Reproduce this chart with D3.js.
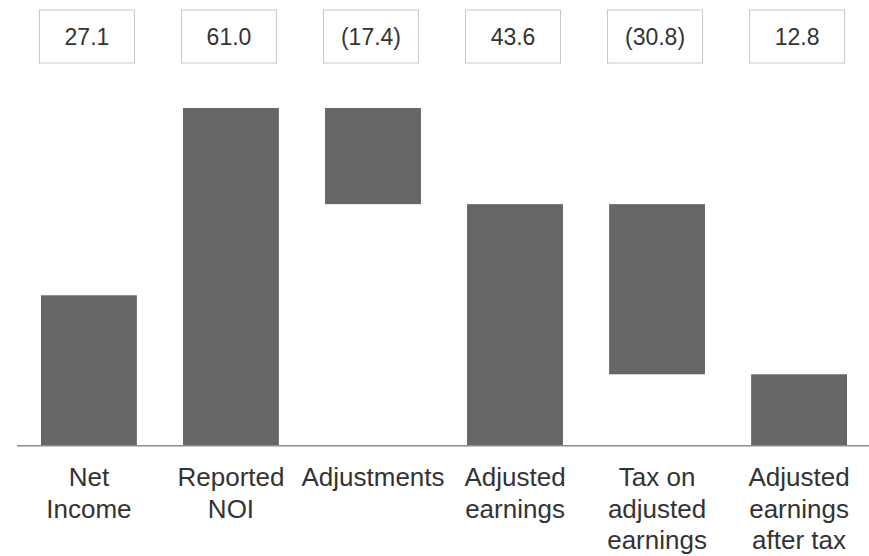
<!DOCTYPE html>
<html>
<head>
<meta charset="utf-8">
<script src="https://cdn.jsdelivr.net/npm/d3@7"></script>
<style>
  html, body { margin: 0; padding: 0; background: #ffffff; }
  svg { display: block; font-family: "Liberation Sans", Arial, Helvetica, sans-serif; }
</style>
</head>
<body>
<svg id="chart" width="869" height="556"></svg>
<script>
// ---- data ----
const categories = [
  ["Net", "Income"],
  ["Reported", "NOI"],
  ["Adjustments"],
  ["Adjusted", "earnings"],
  ["Tax on", "adjusted", "earnings"],
  ["Adjusted", "earnings", "after tax"]
];
const values = [27.1, 61.0, -17.4, 43.6, -30.8, 12.8];
// "total" bars start at zero; "delta" bars float from the running total
const barTypes = ["total", "total", "delta", "total", "delta", "total"];

// ---- build waterfall segments ----
let running = 0;
const bars = values.map((v, i) => {
  let y0, y1;
  if (barTypes[i] === "total") { y0 = 0; y1 = v; running = v; }
  else { y0 = running; y1 = running + v; running = y1; }
  return { i, v, lo: Math.min(y0, y1), hi: Math.max(y0, y1) };
});

const fmt = v => v < 0 ? "(" + d3.format(".1f")(-v) + ")" : d3.format(".1f")(v);

const svg = d3.select("#chart");

const x = d3.scaleBand()
  .domain(d3.range(categories.length))
  .range([17, 871])
  .paddingInner(0.325)
  .paddingOuter(0.169);

const y = d3.scaleLinear()
  .domain([0, 61.0])
  .range([445, 108]);

// bars
svg.append("g").selectAll("rect")
  .data(bars)
  .join("rect")
  .attr("x", d => x(d.i))
  .attr("width", x.bandwidth())
  .attr("y", d => y(d.hi))
  .attr("height", d => y(d.lo) - y(d.hi))
  .attr("fill", "#666666");

// baseline axis
svg.append("line")
  .attr("x1", 17).attr("x2", 869)
  .attr("y1", y(0) + 0.75).attr("y2", y(0) + 0.75)
  .attr("stroke", "#8c8c8c")
  .attr("stroke-width", 1.5);

// value boxes
const boxW = 95, boxH = 53, boxTop = 10;
const boxes = svg.append("g").selectAll("g")
  .data(bars)
  .join("g")
  .attr("transform", d => `translate(${x(d.i) + x.bandwidth() / 2 - 2},0)`);
boxes.append("rect")
  .attr("x", -boxW / 2).attr("y", boxTop)
  .attr("width", boxW).attr("height", boxH)
  .attr("fill", "#ffffff")
  .attr("stroke", "#c8c8c8")
  .attr("stroke-width", 1);
boxes.append("text")
  .attr("x", 0).attr("y", 45)
  .attr("text-anchor", "middle")
  .attr("font-size", 23)
  .attr("fill", "#333333")
  .text(d => fmt(d.v));

// category labels
const labels = svg.append("g").selectAll("text")
  .data(categories)
  .join("text")
  .attr("text-anchor", "middle")
  .attr("font-size", 26)
  .attr("fill", "#333333")
  .attr("transform", (d, i) => `translate(${x(i) + x.bandwidth() / 2},0)`);
labels.selectAll("tspan")
  .data(d => d)
  .join("tspan")
  .attr("x", 0)
  .attr("y", (d, j) => 486 + j * 31.5)
  .text(d => d);
</script>
</body>
</html>
